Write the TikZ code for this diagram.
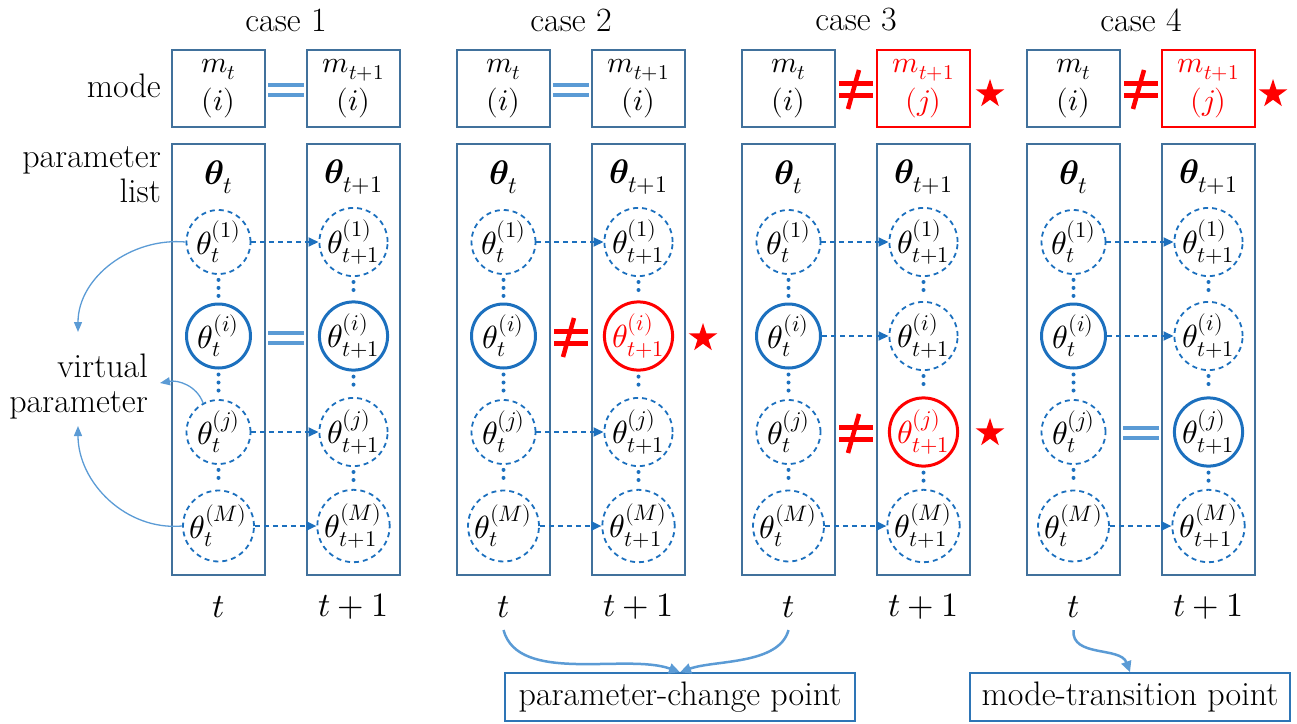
\documentclass[tikz,border=0pt]{standalone}
\usepackage{unicode-math}
\setmathfont{Latin Modern Math}
\usetikzlibrary{shapes.geometric,arrows.meta}
\definecolor{framecol}{RGB}{65,113,156}
\definecolor{circblue}{RGB}{28,112,190}
\definecolor{lightblue}{RGB}{91,155,213}
\definecolor{boxblue}{RGB}{46,117,182}
\definecolor{myred}{RGB}{255,0,0}
\newcommand\eqmark[2]{\begin{scope}[shift={(#1,#2)}]\draw[eqline] (-18,-5)--(18,-5) (-18,5)--(18,5);\end{scope}}
\newcommand\neqmark[2]{\begin{scope}[shift={(#1,#2)}]\draw[neqline] (-17,-6)--(17,-6) (-17,6)--(17,6);\draw[neqline,line width=4.5pt] (3,-19)--(-8,20);\end{scope}}
\begin{document}
\begin{tikzpicture}[x=1pt,y=-1pt,
 every node/.style={font=\fontsize{34}{35}\selectfont, inner sep=0pt},
 modebox/.style={draw=framecol, line width=2pt, minimum width=93pt, minimum height=77pt, align=center, font=\fontsize{30}{38}\selectfont},
 redbox/.style={modebox, draw=myred, text=myred},
 parbox/.style={draw=framecol, line width=2pt, minimum width=93pt, minimum height=431pt},
 cbase/.style={circle, minimum size=64pt, font=\fontsize{32}{34}\selectfont},
 dc/.style={cbase, draw=circblue, line width=1.8pt, dash pattern=on 5pt off 4pt},
 sc/.style={cbase, draw=circblue, line width=3pt},
 rc/.style={cbase, draw=myred, line width=3pt, text=myred},
 darrow/.style={draw=circblue, line width=2pt, dash pattern=on 5pt off 4pt, -{Triangle[length=10pt,width=9pt]}},
 dotline/.style={draw=circblue, line width=4pt, line cap=round, dash pattern=on 0pt off 8pt, shorten >=5pt, shorten <=5pt},
 eqline/.style={draw=lightblue, line width=4.5pt},
 neqline/.style={draw=myred, line width=5pt},
 starmark/.style={star, star points=5, star point ratio=2.6, fill=myred, minimum size=30pt},
 varrow/.style={draw=lightblue, line width=1.3pt, -{Triangle[length=10pt,width=8pt]}},
 barrow/.style={draw=lightblue, line width=2.5pt, -{Triangle[length=11pt,width=10pt]}},
 labbox/.style={draw=boxblue, line width=1.5pt, minimum height=48pt}
]
\useasboundingbox (0,0) rectangle (1297,723);

% side labels
\node[anchor=east] (modelab) at (161,86) {mode};
\node[anchor=east, align=right] (parlab) at (161,175) {parameter\\list};
\node[anchor=east, align=right] (vplab) at (148,387) {virtual\\parameter};

\foreach \k in {1,2,3,4}{
  \pgfmathsetmacro\xa{218.5+285*(\k-1)}
  \pgfmathsetmacro\xb{\xa+135}
  \pgfmathsetmacro\xc{\xa+67.5}
  \node (case\k) at (\xc,20) {case \k};
  \node[modebox] (ma\k) at (\xa,88.5) {$m_t$\\$(i)$};
  \node[parbox] (pa\k) at (\xa,359.5) {};
  \node[parbox] (pb\k) at (\xb,359.5) {};
  \node (ta\k) at (\xa,177) {$\symbfit{\theta}_t$};
  \node (tb\k) at (\xb,177) {$\symbfit{\theta}_{t+1}$};
  \node (la\k) at (\xa,607) {$t$};
  \node (lb\k) at (\xb,607) {$t+1$};
  \foreach \r/\yy/\s in {1/242/dc, i/336/sc, j/432/dc, M/526/dc}{
    \node[\s] (ca\k\r) at (\xa,\yy) {$\theta_t^{(\r)}$};
  }
}
\foreach \k/\r/\yy/\s in {1/1/242/dc,1/i/336/sc,1/j/432/dc,1/M/526/dc,
  2/1/242/dc,2/i/336/rc,2/j/432/dc,2/M/526/dc,
  3/1/242/dc,3/i/336/dc,3/j/432/rc,3/M/526/dc,
  4/1/242/dc,4/i/336/dc,4/j/432/sc,4/M/526/dc}{
  \pgfmathsetmacro\xb{353.5+285*(\k-1)}
  \node[\s] (cb\k\r) at (\xb,\yy) {$\theta_{t+1}^{(\r)}$};
}
\node[modebox] (mb1) at (353.5,88.5) {$m_{t+1}$\\$(i)$};
\node[modebox] (mb2) at (638.5,88.5) {$m_{t+1}$\\$(i)$};
\node[redbox] (mb3) at (923.5,88.5) {$m_{t+1}$\\$(j)$};
\node[redbox] (mb4) at (1208.5,88.5) {$m_{t+1}$\\$(j)$};

% dotted links
\foreach \k in {1,2,3,4}{
  \foreach \col in {a,b}{
    \draw[dotline] (c\col\k1.south) -- (c\col\k i.north);
    \draw[dotline] (c\col\k i.south) -- (c\col\k j.north);
    \draw[dotline] (c\col\k j.south) -- (c\col\k M.north);
  }
}
% dashed arrows
\foreach \k/\r in {1/1,1/j,1/M,2/1,2/j,2/M,3/1,3/i,3/M,4/1,4/i,4/M}{
  \draw[darrow] (ca\k\r.east) -- (cb\k\r.west);
}

% equal / not-equal signs
\eqmark{286}{90}
\eqmark{286}{338}
\eqmark{571}{90}
\neqmark{571}{337}
\neqmark{856}{89}
\neqmark{856}{433}
\neqmark{1141}{89}
\eqmark{1141}{433}

% stars
\node[starmark] (st2) at (703,338) {};
\node[starmark] (st3a) at (990,94) {};
\node[starmark] (st3b) at (990,433) {};
\node[starmark] (st4) at (1273,94) {};

% virtual parameter arrows
\coordinate (vp1) at (78,332);
\coordinate (vp2) at (160,383);
\coordinate (vp3) at (78,426);
\draw[varrow] (ca11.west) to[out=175,in=90] (vp1);
\draw[varrow] (ca1j.118) to[out=110,in=10] (vp2);
\draw[varrow] (ca1M.west) to[out=185,in=270] (vp3);

% bottom boxes
\node[labbox, minimum width=350pt] (pc) at (680,697) {parameter-change point};
\node[labbox, minimum width=320pt] (mt) at (1130,697) {mode-transition point};
\draw[barrow] ([yshift=-12pt]la2.south) to[out=-75,in=160,looseness=0.8] (pc.north);
\draw[barrow] ([yshift=-12pt]la3.south) to[out=-105,in=20,looseness=0.8] (pc.north);
\draw[barrow] ([yshift=-12pt]la4.south) to[out=-95,in=110] (mt.north);
\end{tikzpicture}
\end{document}
